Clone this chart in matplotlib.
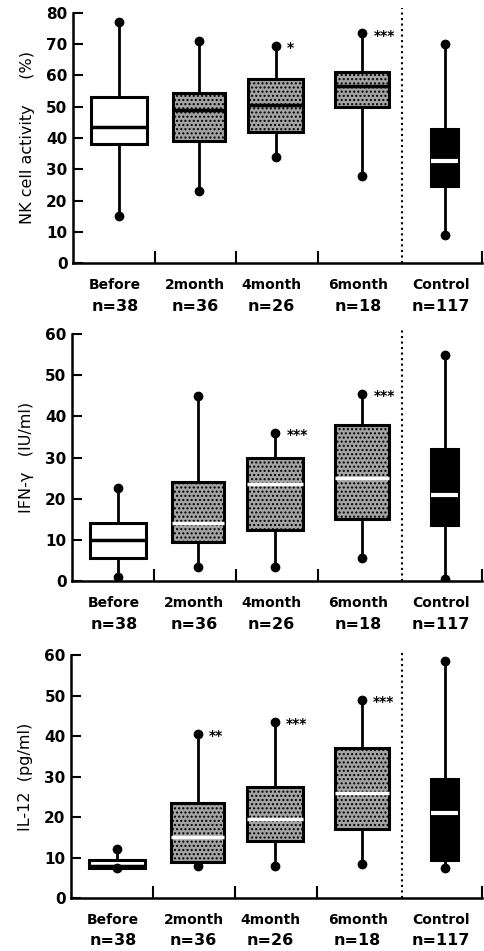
import numpy as np
import matplotlib.pyplot as plt

# 組別與樣本數
groups = ["Before", "2month", "4month", "6month", "Control"]
n_sizes = [38, 36, 26, 18, 117]
positions = [0.56, 1.54, 2.48, 3.54, 4.55]

# 各指標的箱形圖數值: (whislo, q1, med, q3, whishi)
nk_low = [15, 23, 34, 28, 9]
nk_q1 = [38, 39, 42, 50, 24.5]
nk_med = [43.5, 49, 50.5, 56.5, 32.5]
nk_q3 = [53, 54.5, 59, 61, 43]
nk_high = [77, 71, 69.5, 73.5, 70]
nk_stars = ["", "", "*", "***", ""]

ifn_low = [1, 3.5, 3.5, 5.5, 0.5]
ifn_q1 = [5.5, 9.5, 12.5, 15, 13.5]
ifn_med = [10, 14, 23.5, 25, 21]
ifn_q3 = [14, 24, 30, 38, 32]
ifn_high = [22.5, 45, 36, 45.5, 55]
ifn_stars = ["", "", "***", "***", ""]

il_low = [7.5, 8, 8, 8.5, 7.5]
il_q1 = [7.5, 9, 14, 17, 9.5]
il_med = [7.8, 15, 19.5, 26, 21]
il_q3 = [9.5, 23.5, 27.5, 37, 29.5]
il_high = [12, 40.5, 43.5, 49, 58.5]
il_stars = ["", "**", "***", "***", ""]

panels = [
    ("NK cell activity     (%)", 80, nk_low, nk_q1, nk_med, nk_q3, nk_high, nk_stars, "black"),
    ("IFN-γ   (IU/ml)", 60, ifn_low, ifn_q1, ifn_med, ifn_q3, ifn_high, ifn_stars, "white"),
    ("IL-12  (pg/ml)", 60, il_low, il_q1, il_med, il_q3, il_high, il_stars, "white"),
]

# 各子圖的位置 (left, bottom, width, height)
rects = [
    (0.151, 0.7234, 0.844, 0.263),
    (0.149, 0.389, 0.846, 0.2597),
    (0.147, 0.0557, 0.848, 0.2555),
]

plt.rcParams['font.family'] = ['DejaVu Sans']
fig = plt.figure(figsize=(4.84, 9.51), dpi=100)

for rect, (ylabel, ymax, lo, q1, med, q3, hi, stars, medcol) in zip(rects, panels):
    ax = fig.add_axes(rect)
    stats = []
    for i in range(len(groups)):
        stats.append(dict(whislo=lo[i], q1=q1[i], med=med[i], q3=q3[i], whishi=hi[i], fliers=[]))
    widths = [0.68, 0.64, 0.68, 0.66, 0.33]
    bp = ax.bxp(stats, positions=positions, widths=widths, patch_artist=True,
                showcaps=False, manage_ticks=False,
                boxprops=dict(linewidth=2.2, edgecolor="black"),
                whiskerprops=dict(linewidth=2, color="black"),
                medianprops=dict(linewidth=2.5))
    for i, box in enumerate(bp["boxes"]):
        if i == 0:
            box.set_facecolor("white")
        elif i == 4:
            box.set_facecolor("black")
        else:
            box.set_facecolor("#a4a4a4")
            box.set_hatch("....")
    for i, m in enumerate(bp["medians"]):
        if i == 0:
            m.set_color("black")
        elif i == 4:
            m.set_color("white")
            m.set_linewidth(3)
        else:
            m.set_color(medcol)
    # 鬚端的圓點
    ax.plot(positions, lo, "o", color="black", markersize=6, zorder=5)
    ax.plot(positions, hi, "o", color="black", markersize=6, zorder=5)
    for x, y, s in zip(positions, hi, stars):
        if s:
            ax.text(x + 0.14, y - ymax * 0.01, s, fontsize=10, fontweight="bold", va="center", ha="left")

    ax.set_xlim(0, 5)
    ax.set_ylim(0, ymax)
    ax.set_yticks(np.arange(0, ymax + 1, 10))
    ax.tick_params(axis="y", direction="in", length=7, width=1.5, labelsize=11, pad=4)
    ax.set_xticks([1, 2, 3, 5])
    ax.set_xticklabels([])
    ax.tick_params(axis="x", direction="in", length=9, width=1.5)
    for lab in ax.get_yticklabels():
        lab.set_fontweight("bold")
    ax.spines["top"].set_visible(False)
    ax.spines["right"].set_visible(False)
    ax.spines["left"].set_linewidth(1.8)
    ax.spines["bottom"].set_linewidth(1.8)
    ax.axvline(4.03, color="black", linestyle=":", linewidth=1.5, ymin=0, ymax=1.02, clip_on=False)
    ax.set_ylabel(ylabel, fontsize=11.5, labelpad=8)

    for x, g, n in zip(positions, groups, n_sizes):
        ax.text(x - 0.05, -0.06, g, transform=ax.get_xaxis_transform(), ha="center", va="top",
                fontsize=10, fontweight="bold")
        ax.text(x - 0.05, -0.145, "n=%d" % n, transform=ax.get_xaxis_transform(), ha="center", va="top",
                fontsize=11.5, fontweight="bold")

fig.savefig("out.png", dpi=100)
